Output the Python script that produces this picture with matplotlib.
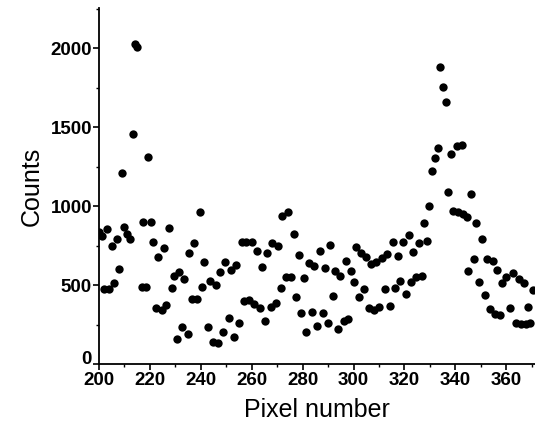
import matplotlib
matplotlib.use("Agg")
from matplotlib import pyplot as plt
from matplotlib.ticker import MultipleLocator, FuncFormatter

# pixel positions and counts
pixel = [200.0, 201.0, 202.1, 203.0, 204.0, 205.0, 206.0, 206.9, 208.0, 209.1,
         209.9, 211.1, 212.2, 213.3, 214.1, 214.9, 216.7, 217.1, 218.3, 219.2,
         220.3, 221.3, 222.2, 223.3, 224.6, 225.5, 226.5, 227.5, 228.5, 229.4,
         230.5, 231.4, 232.7, 233.3, 234.8, 235.4, 236.6, 237.4, 238.5, 239.6,
         240.5, 241.3, 242.9, 243.5, 244.8, 245.8, 246.8, 247.7, 248.7, 249.7,
         251.0, 251.8, 252.9, 253.7, 254.9, 256.0, 256.9, 257.9, 258.9, 260.1,
         260.9, 262.1, 263.1, 264.2, 265.4, 266.2, 267.5, 268.1, 269.4, 270.3,
         271.4, 272.0, 273.3, 274.2, 275.3, 276.5, 277.5, 278.4, 279.5, 280.5,
         281.4, 282.4, 283.7, 284.4, 285.8, 286.7, 288.0, 288.6, 289.9, 290.9,
         291.9, 292.8, 293.9, 294.8, 296.2, 296.9, 297.8, 299.1, 300.0, 301.1,
         302.0, 303.0, 304.0, 305.0, 305.9, 306.9, 308.0, 308.9, 310.2, 311.1,
         312.2, 313.2, 314.4, 315.4, 316.3, 317.4, 318.4, 319.6, 320.6, 321.6,
         322.6, 323.3, 324.6, 325.6, 326.9, 327.6, 328.7, 329.8, 331.0, 332.0,
         333.1, 334.0, 335.0, 336.2, 337.1, 338.3, 339.0, 340.5, 341.0, 342.5,
         342.9, 344.4, 345.1, 346.2, 347.2, 348.1, 349.4, 350.4, 351.6, 352.3,
         353.5, 354.7, 355.7, 356.5, 357.6, 358.5, 360.1, 361.5, 362.6, 363.7,
         365.1, 365.7, 367.1, 367.6, 368.7, 369.5, 370.5]
counts = [837, 812, 475, 855, 475, 747, 511, 791, 603, 1211,
          865, 823, 789, 1456, 2026, 2007, 485, 897, 485, 1310,
          901, 774, 352, 675, 342, 732, 373, 859, 479, 557,
          156, 580, 236, 536, 190, 705, 411, 764, 411, 964,
          489, 648, 232, 525, 141, 500, 135, 584, 200, 648,
          293, 595, 173, 627, 258, 770, 399, 770, 405, 770,
          378, 715, 352, 614, 274, 701, 363, 764, 384, 749,
          479, 937, 549, 964, 549, 823, 422, 690, 325, 542,
          204, 641, 327, 620, 241, 715, 325, 606, 262, 753,
          432, 589, 219, 557, 272, 652, 283, 591, 517, 739,
          426, 705, 475, 679, 356, 631, 342, 648, 359, 669,
          473, 696, 367, 774, 479, 684, 525, 774, 443, 817,
          521, 711, 549, 764, 557, 891, 781, 1000, 1222, 1306,
          1369, 1878, 1751, 1660, 1091, 1327, 968, 1380, 960, 1386,
          948, 932, 591, 1076, 663, 891, 521, 791, 437, 663,
          346, 652, 316, 595, 310, 511, 549, 352, 576, 262,
          536, 253, 515, 253, 361, 260, 468]

plt.rcParams['font.family'] = ['Liberation Sans', 'DejaVu Sans']

fig = plt.figure(figsize=(5.35, 4.25), dpi=100)
ax = fig.add_axes([99 / 535, 61 / 425, 436 / 535, 356 / 425])

ax.plot(pixel, counts, 'o', color='black', markersize=6, markeredgewidth=0)

ax.set_xlim(200, 371.3)
ax.set_ylim(0, 2254)

ax.xaxis.set_major_locator(MultipleLocator(20))
ax.xaxis.set_minor_locator(MultipleLocator(10))
ax.yaxis.set_major_locator(MultipleLocator(500))
ax.yaxis.set_minor_locator(MultipleLocator(250))
# "0" is drawn separately below, a bit higher so it clears "200"
ax.yaxis.set_major_formatter(FuncFormatter(lambda v, p: '' if v == 0 else '%g' % v))

ax.spines['top'].set_visible(False)
ax.spines['right'].set_visible(False)
ax.spines['left'].set_linewidth(1.3)
ax.spines['bottom'].set_linewidth(1.3)

ax.tick_params(which='major', direction='out', length=4, width=1.2,
               labelsize=13.5, pad=1)
ax.tick_params(axis='x', which='major', pad=2)
ax.tick_params(which='minor', direction='out', length=2.5, width=1.0)
for lab in ax.get_xticklabels() + ax.get_yticklabels():
    lab.set_fontweight('bold')

ax.annotate('0', xy=(0, 0), xycoords=('axes fraction', 'data'),
            xytext=(-5, 0), textcoords='offset points',
            ha='right', va='baseline', fontsize=13.5, fontweight='bold')

ax.set_xlabel("Pixel number", fontsize=18, labelpad=6)
ax.set_ylabel("Counts", fontsize=18, labelpad=5)

fig.savefig("out.png", dpi=100)
